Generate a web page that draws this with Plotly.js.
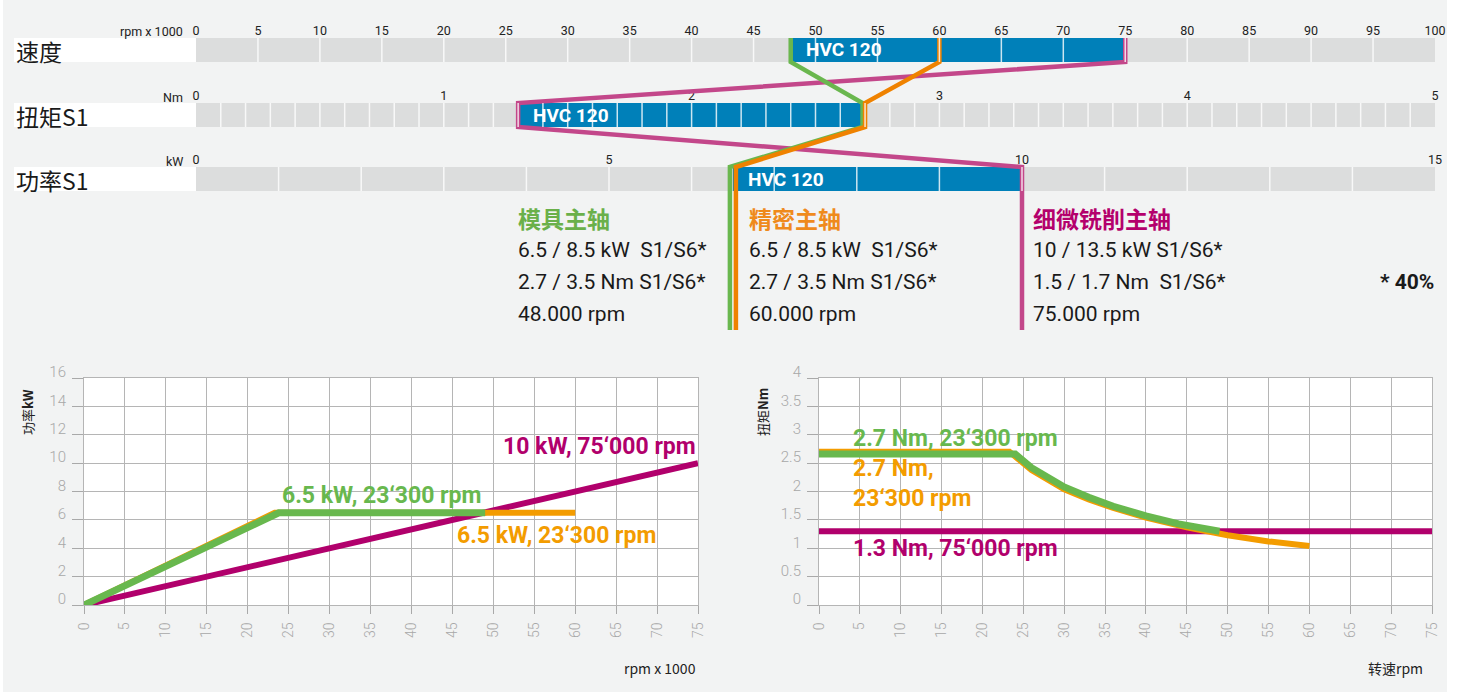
<!DOCTYPE html>
<html><head><meta charset="utf-8">
<script src="https://cdn.plot.ly/plotly-3.0.1.min.js"></script>
<style>html,body{margin:0;padding:0;background:#fff;}</style>
</head><body><div id="chart" style="width:1460px;height:695px;"></div>
<script>
// ================= DATA =================
const scaleNames = ['速度', '扭矩S1', '功率S1'];
const scaleUnits = ['rpm x 1000', 'Nm', 'kW'];
const scaleMax = [100, 5, 15];
const scaleLabelStep = [5, 1, 5];
const scaleDivStep = [5, 0.1, 1];
const hvcStart = [48, 1.3, 6.5];
const hvcEnd = [75, 2.7, 10];
const hvcLabel = 'HVC 120';

const spindleNames = ['模具主轴', '精密主轴', '细微铣削主轴'];
const spindleSpeed = [48, 60, 75];     // rpm x 1000
const spindleTorque = [2.7, 2.7, 1.3]; // Nm
const spindlePower = [6.5, 6.5, 10];   // kW
const specLine1 = ['6.5 / 8.5 kW\u00a0\u00a0S1/S6*', '6.5 / 8.5 kW\u00a0\u00a0S1/S6*', '10 / 13.5 kW S1/S6*'];
const specLine2 = ['2.7 / 3.5 Nm S1/S6*', '2.7 / 3.5 Nm S1/S6*', '1.5 / 1.7 Nm\u00a0\u00a0S1/S6*'];
const specLine3 = ['48.000 rpm', '60.000 rpm', '75.000 rpm'];
const footnote = '* 40%';

// Power chart (kW vs rpm x 1000)
const pRpmGreen = [0, 23.8, 49];
const pKwGreen = [0, 6.5, 6.5];
const pRpmOrange = [0, 23.3, 60];
const pKwOrange = [0, 6.5, 6.5];
const pRpmMagenta = [0, 75];
const pKwMagenta = [0, 10];
const powerLabels = ['6.5 kW, 23‘300 rpm', '6.5 kW, 23‘300 rpm', '10 kW, 75‘000 rpm'];

// Torque chart (Nm vs rpm x 1000)
const tRpmGreen = [0, 24, 26, 28, 30, 33, 36, 40, 44, 49];
const tNmGreen = [2.66, 2.66, 2.42, 2.24, 2.08, 1.9, 1.74, 1.57, 1.43, 1.3];
const tRpmOrange = [0, 23.3, 26, 28, 30, 33, 36, 40, 45, 50, 55, 60];
const tNmOrange = [2.7, 2.7, 2.38, 2.2, 2.04, 1.86, 1.71, 1.54, 1.37, 1.23, 1.12, 1.04];
const tRpmMagenta = [0, 75];
const tNmMagenta = [1.3, 1.3];
const torqueLabels = ['2.7 Nm, 23‘300 rpm', '2.7 Nm,<br>23‘300 rpm', '1.3 Nm, 75‘000 rpm'];

const powerTicksY = [0, 2, 4, 6, 8, 10, 12, 14, 16];
const torqueTicksY = [0, 0.5, 1, 1.5, 2, 2.5, 3, 3.5, 4];
const rpmTicks = [0, 5, 10, 15, 20, 25, 30, 35, 40, 45, 50, 55, 60, 65, 70, 75];

// ================= LAYOUT CONSTANTS =================
const W = 1460, H = 695;
const px = p => p / W;
const py = p => 1 - p / H;
const BAR_X = [196, 1435];
const ROWS = [[38, 62], [103, 127], [167, 191]];
const LINE_END = 330;
const OVER_H = 340;
const FONT = 'Roboto, "Noto Sans CJK SC", sans-serif';
const CJK = '"Noto Sans CJK SC", Roboto, sans-serif';
const C_GREEN = '#68b84e', C_ORANGE = '#f39c00', C_MAG = '#b1006c';
const C_LGREEN = '#6ab74e', C_LORANGE = '#ef8200', C_LPINK = '#c3478a';
const C_TGREEN = '#6ab04a', C_TORANGE = '#ef8a1c', C_TMAG = '#b4006c';
const C_BLUE = '#0080b9', C_GRAYBAR = '#dcdddd';
const PXU = (BAR_X[1] - BAR_X[0]) / 100; // px per overlay unit

const traces = [];
const layout = {
  width: W, height: H,
  margin: {l: 0, r: 0, t: 0, b: 0},
  paper_bgcolor: '#ffffff',
  plot_bgcolor: 'rgba(0,0,0,0)',
  showlegend: false,
  barmode: 'overlay',
  font: {family: FONT, color: '#1a1a1a'},
  shapes: [], annotations: []
};
// panel background
layout.shapes.push({type: 'rect', xref: 'paper', yref: 'paper', x0: px(3), x1: px(1447), y0: py(692), y1: py(0),
  fillcolor: '#f2f3f3', line: {width: 0}, layer: 'below'});

// ---- scale bars ----
for (let r = 0; r < 3; r++) {
  const xa = r === 0 ? 'x' : 'x' + (r + 1);
  const ya = r === 0 ? 'y' : 'y' + (r + 1);
  const xk = r === 0 ? 'xaxis' : 'xaxis' + (r + 1);
  const yk = r === 0 ? 'yaxis' : 'yaxis' + (r + 1);
  const tv = [];
  for (let v = 0; v <= scaleMax[r] + 1e-9; v += scaleLabelStep[r]) tv.push(+v.toFixed(3));
  layout[xk] = {domain: [px(BAR_X[0]), px(BAR_X[1])], anchor: ya, range: [0, scaleMax[r]], side: 'top',
    tickvals: tv, ticks: '', showgrid: false, zeroline: false, showline: false,
    tickfont: {size: 12.5, color: '#222', family: FONT}, fixedrange: true};
  layout[yk] = {domain: [py(ROWS[r][1]), py(ROWS[r][0])], anchor: xa, range: [-0.5, 0.5], visible: false, fixedrange: true};
  traces.push({type: 'bar', orientation: 'h', xaxis: xa, yaxis: ya, y: [0], x: [scaleMax[r]], base: [0], width: 1,
    marker: {color: C_GRAYBAR, line: {width: 0}}, hoverinfo: 'skip'});
  traces.push({type: 'bar', orientation: 'h', xaxis: xa, yaxis: ya, y: [0], x: [hvcEnd[r] - hvcStart[r]], base: [hvcStart[r]], width: 1,
    marker: {color: C_BLUE, line: {width: 0}}, hoverinfo: 'skip'});
  // white label box
  layout.shapes.push({type: 'rect', xref: 'paper', yref: 'paper', x0: px(14), x1: px(BAR_X[0]),
    y0: py(ROWS[r][1]), y1: py(ROWS[r][0]), fillcolor: '#ffffff', line: {width: 0}, layer: 'below'});
  layout.annotations.push({xref: 'paper', yref: 'paper', x: px(14), y: py((ROWS[r][0] + ROWS[r][1]) / 2 + 1),
    xanchor: 'left', yanchor: 'middle', showarrow: false, text: scaleNames[r],
    font: {family: CJK, size: 23, color: '#1a1a1a'}});
  layout.annotations.push({xref: 'paper', yref: 'paper', x: px(185), y: py(ROWS[r][0] - 6),
    xanchor: 'right', yanchor: 'middle', showarrow: false, text: scaleUnits[r],
    font: {family: FONT, size: 12.5, color: '#222'}});
  layout.annotations.push({xref: xa, yref: ya, x: hvcStart[r], y: 0, xanchor: 'left', yanchor: 'middle', xshift: 13,
    showarrow: false, text: '<b>' + hvcLabel + '</b>', font: {family: FONT, size: 19, color: '#ffffff'}});
}

// ---- overlay (connectors + dividers) ----
layout.xaxis6 = {domain: [px(BAR_X[0]), px(BAR_X[1])], anchor: 'y6', range: [0, 100], visible: false, fixedrange: true};
layout.yaxis6 = {domain: [py(OVER_H), 1], anchor: 'x6', range: [OVER_H, 0], visible: false, fixedrange: true};
const lineCols = [C_LGREEN, C_LORANGE, C_LPINK];
const offsT = [-2.5 / PXU, 0, 0];
const offsP = [-3 / PXU, 3 / PXU, 0];
[2, 0, 1].forEach(i => {
  const s = spindleSpeed[i] / scaleMax[0] * 100;
  const t = spindleTorque[i] / scaleMax[1] * 100 + offsT[i];
  const p = spindlePower[i] / scaleMax[2] * 100 + offsP[i];
  traces.push({type: 'scatter', mode: 'lines', xaxis: 'x6', yaxis: 'y6',
    x: [s, s, t, t, p, p],
    y: [ROWS[0][0], ROWS[0][1], ROWS[1][0], ROWS[1][1], ROWS[2][0], LINE_END],
    line: {color: lineCols[i], width: 4.5}, hoverinfo: 'skip'});
});
const dx = [], dy = [];
for (let r = 0; r < 3; r++) {
  const n = Math.round(scaleMax[r] / scaleDivStep[r]);
  for (let k = 1; k < n; k++) {
    const v = k * scaleDivStep[r] / scaleMax[r] * 100;
    dx.push(v, v, null); dy.push(ROWS[r][0], ROWS[r][1], null);
  }
}
traces.push({type: 'scatter', mode: 'lines', xaxis: 'x6', yaxis: 'y6', x: dx, y: dy,
  line: {color: 'rgba(255,255,255,0.8)', width: 1.5}, hoverinfo: 'skip'});

// ---- spec texts ----
const blockX = [516, 747, 1031];
const titleCols = [C_TGREEN, C_TORANGE, C_TMAG];
for (let i = 0; i < 3; i++) {
  layout.annotations.push({xref: 'paper', yref: 'paper', x: px(blockX[i]), y: py(218), xanchor: 'left', yanchor: 'middle',
    showarrow: false, text: '<b>' + spindleNames[i] + '</b>', font: {family: CJK, size: 23, color: titleCols[i]}});
  [specLine1[i], specLine2[i], specLine3[i]].forEach((t, j) => {
    layout.annotations.push({xref: 'paper', yref: 'paper', x: px(blockX[i]), y: py(250 + 32 * j), xanchor: 'left', yanchor: 'middle',
      showarrow: false, text: t, font: {family: FONT, size: 21, color: '#1a1a1a'}});
  });
}
layout.annotations.push({xref: 'paper', yref: 'paper', x: px(1436), y: py(282), xanchor: 'right', yanchor: 'middle',
  showarrow: false, text: '<b>' + footnote + '</b>', font: {family: FONT, size: 21, color: '#1a1a1a'}});

// ---- bottom charts ----
function bottomAxes(n, x0, x1, yr, ytv, ytitle, xtitle, titleX, xtitleX) {
  layout['xaxis' + n] = {domain: [px(x0), px(x1)], anchor: 'y' + n, range: [0, 75], tickvals: rpmTicks, tickangle: -90,
    ticks: 'outside', ticklen: 8, tickcolor: '#a9a9a9', tickwidth: 1, showgrid: true, gridcolor: '#b5b5b5', gridwidth: 1,
    showline: true, mirror: true, linecolor: '#b5b5b5', linewidth: 1, zeroline: false, ticklabelstandoff: 3,
    tickfont: {family: FONT, size: 14, color: '#a8a8a8', weight: 300}, fixedrange: true};
  layout['yaxis' + n] = {domain: [py(605), py(378)], anchor: 'x' + n, range: yr, tickvals: ytv,
    ticks: 'outside', ticklen: 11, tickcolor: '#a9a9a9', tickwidth: 1, showgrid: true, gridcolor: '#b5b5b5', gridwidth: 1,
    showline: true, mirror: true, linecolor: '#b5b5b5', linewidth: 1, zeroline: false,
    ticklabelshift: -6, ticklabelstandoff: 3,
    tickfont: {family: FONT, size: 15, color: '#a8a8a8', weight: 300}, fixedrange: true};
  layout.shapes.push({type: 'rect', xref: 'x' + n + ' domain', yref: 'y' + n + ' domain', x0: 0, x1: 1, y0: 0, y1: 1,
    fillcolor: '#ffffff', line: {width: 0}, layer: 'below'});
  layout.annotations.push({xref: 'paper', yref: 'paper', x: px(titleX), y: py(412), xanchor: 'center', yanchor: 'middle',
    textangle: -90, showarrow: false, text: ytitle, font: {family: CJK, size: 13, color: '#222'}});
  layout.annotations.push({xref: 'paper', yref: 'paper', x: px(xtitleX), y: py(668), xanchor: 'right', yanchor: 'middle',
    showarrow: false, text: xtitle, font: {family: CJK, size: 14, color: '#222'}});
}
bottomAxes(4, 84, 698, [0, 16], powerTicksY, '功率<b>kW</b>', 'rpm x 1000', 27, 698);
bottomAxes(5, 819, 1432, [0, 4], torqueTicksY, '扭矩<b>Nm</b>', '转速rpm', 762, 1425);

function line(xa, ya, x, y, c, w) {
  traces.push({type: 'scatter', mode: 'lines', xaxis: xa, yaxis: ya, x: x, y: y, line: {color: c, width: w}, hoverinfo: 'skip', cliponaxis: false});
}
line('x4', 'y4', pRpmMagenta, pKwMagenta, C_MAG, 6);
line('x4', 'y4', pRpmOrange, pKwOrange, C_ORANGE, 6);
line('x4', 'y4', pRpmGreen, pKwGreen, C_GREEN, 7);
line('x5', 'y5', tRpmMagenta, tNmMagenta, C_MAG, 6);
line('x5', 'y5', tRpmOrange, tNmOrange, C_ORANGE, 6);
line('x5', 'y5', tRpmGreen, tNmGreen, C_GREEN, 7);

const LBL = 23;
layout.annotations.push({xref: 'x4', yref: 'y4', x: 23.9, y: 7.7, xanchor: 'left', yanchor: 'middle', showarrow: false,
  text: '<b>' + powerLabels[0] + '</b>', font: {family: FONT, size: LBL, color: C_GREEN}});
layout.annotations.push({xref: 'x4', yref: 'y4', x: 45.3, y: 4.9, xanchor: 'left', yanchor: 'middle', showarrow: false,
  text: '<b>' + powerLabels[1] + '</b>', font: {family: FONT, size: LBL, color: C_ORANGE}});
layout.annotations.push({xref: 'x4', yref: 'y4', x: 75, y: 11.2, xanchor: 'right', yanchor: 'middle', showarrow: false,
  text: '<b>' + powerLabels[2] + '</b>', font: {family: FONT, size: LBL, color: C_MAG}});
layout.annotations.push({xref: 'x5', yref: 'y5', x: 3.9, y: 2.94, xanchor: 'left', yanchor: 'middle', showarrow: false,
  text: '<b>' + torqueLabels[0] + '</b>', font: {family: FONT, size: LBL, color: C_GREEN}});
layout.annotations.push({xref: 'x5', yref: 'y5', x: 3.9, y: 2.14, xanchor: 'left', yanchor: 'middle', align: 'left', showarrow: false,
  text: '<b>' + torqueLabels[1] + '</b>', font: {family: FONT, size: LBL, color: C_ORANGE}});
layout.annotations.push({xref: 'x5', yref: 'y5', x: 3.9, y: 0.99, xanchor: 'left', yanchor: 'middle', showarrow: false,
  text: '<b>' + torqueLabels[2] + '</b>', font: {family: FONT, size: LBL, color: C_MAG}});

Plotly.newPlot('chart', traces, layout, {displayModeBar: false, staticPlot: true});
</script></body></html>
